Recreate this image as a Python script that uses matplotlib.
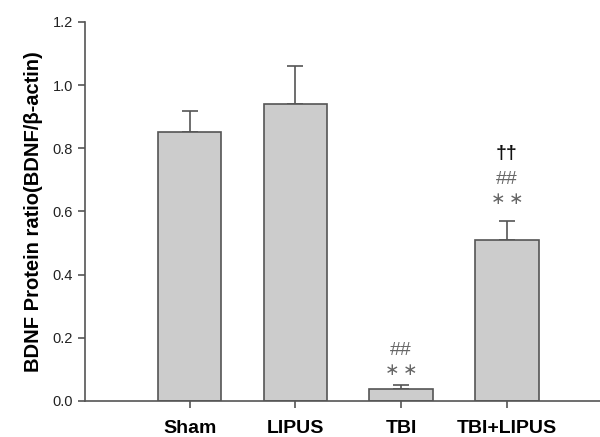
import matplotlib
matplotlib.use("Agg")
import matplotlib.pyplot as plt

categories = ["Sham", "LIPUS", "TBI", "TBI+LIPUS"]
means = [0.853, 0.94, 0.037, 0.51]
errors = [0.065, 0.12, 0.015, 0.06]
yticks = [0.0, 0.2, 0.4, 0.6, 0.8, 1.0, 1.2]
# annotations: (category index, text, y position, color, bold)
annotations = [
    (2, "\u2217\u2217", 0.098, "#666666", False),
    (2, "##", 0.16, "#666666", False),
    (3, "\u2217\u2217", 0.64, "#666666", False),
    (3, "##", 0.70, "#666666", False),
    (3, "\u2020\u2020", 0.785, "#111111", True),
]

plt.rcParams['font.family'] = ['Liberation Sans', 'DejaVu Sans']

fig = plt.figure(figsize=(6.0, 4.37), dpi=100)
ax = fig.add_axes([0.1417, 0.0824, 0.8583, 0.8673])

edge = "#555555"
x = list(range(len(categories)))
ax.bar(x, means, width=0.6, color="#cccccc", edgecolor=edge, linewidth=1.2, zorder=2)
for xi, m, e in zip(x, means, errors):
    ax.errorbar([xi], [m], yerr=[[0], [e]], fmt="none", ecolor=edge,
                elinewidth=1.2, capsize=6, capthick=1.2, zorder=1)

for idx, txt, yv, col, bold in annotations:
    if txt.startswith("\u2217"):
        ax.text(idx, yv, "\u2217\u2009\u2217", ha="center", va="center", fontsize=12.5,
                color=col, family=["DejaVu Sans"])
    else:
        ax.text(idx, yv, txt, ha="center", va="center", fontsize=14,
                color=col, fontweight="bold" if bold else "normal")

ax.set_xlim(-0.99, 3.88)
ax.set_ylim(0, 1.2)
ax.set_yticks(yticks)
ax.set_yticklabels([f"{v:.1f}" for v in yticks], fontsize=10.5, color="#222222")
ax.set_xticks(x)
ax.set_xticklabels(categories, fontsize=14, fontweight="bold")
ax.set_ylabel("BDNF Protein ratio(BDNF/\u03b2-actin)", fontsize=14.5, fontweight="bold", labelpad=7)

for s in ["top", "right"]:
    ax.spines[s].set_visible(False)
for s in ["left", "bottom"]:
    ax.spines[s].set_color(edge)
    ax.spines[s].set_linewidth(1.2)
ax.tick_params(axis="both", direction="out", length=5, width=1.2, color=edge)
ax.tick_params(axis="x", pad=8.5)

fig.savefig("out.png", dpi=100)
